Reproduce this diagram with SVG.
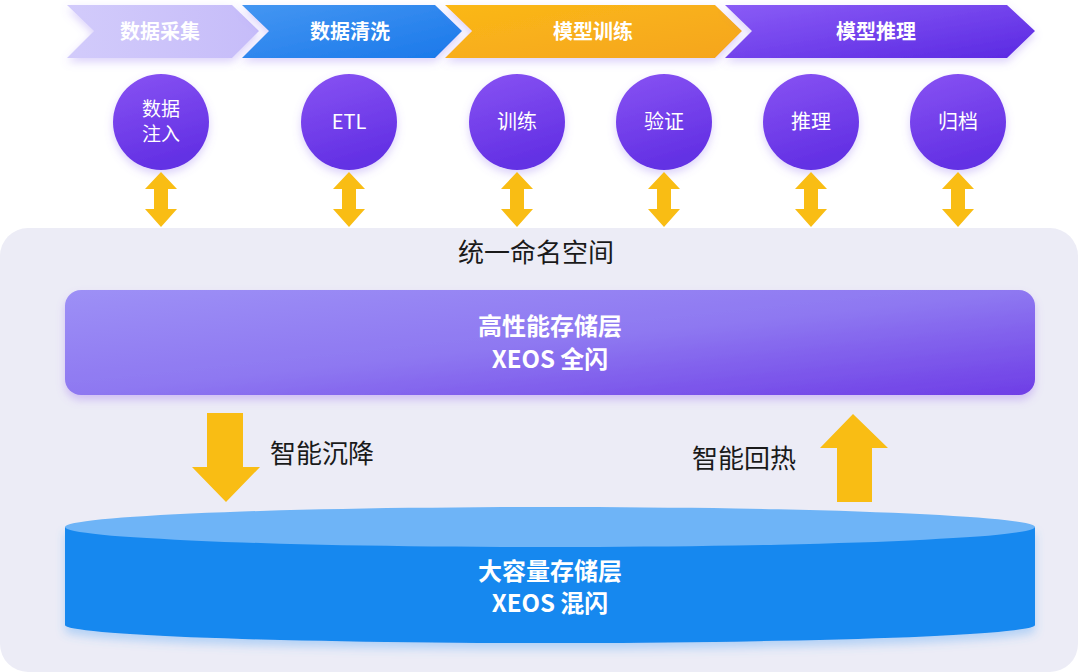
<svg xmlns="http://www.w3.org/2000/svg" width="1080" height="672" viewBox="0 0 1080 672">
<defs>
<linearGradient id="gCh1" x1="0" y1="0" x2="1" y2="0"><stop offset="0" stop-color="#D2CBFB"/><stop offset="1" stop-color="#C6BCF9"/></linearGradient>
<linearGradient id="gCh2" x1="0" y1="0" x2="1" y2="1"><stop offset="0" stop-color="#4496F2"/><stop offset="1" stop-color="#1A78EA"/></linearGradient>
<linearGradient id="gCh3" x1="0" y1="0" x2="1" y2="1"><stop offset="0" stop-color="#FBB817"/><stop offset="1" stop-color="#F5A51F"/></linearGradient>
<linearGradient id="gCh4" x1="0" y1="0" x2="1" y2="1"><stop offset="0" stop-color="#8A5CF6"/><stop offset="1" stop-color="#5A28E2"/></linearGradient>
<linearGradient id="gCirc" x1="0" y1="0" x2="0.3" y2="1"><stop offset="0" stop-color="#8853F3"/><stop offset="1" stop-color="#6330E4"/></linearGradient>
<linearGradient id="gHigh" x1="0" y1="0" x2="1" y2="1"><stop offset="0" stop-color="#9D90F6"/><stop offset="0.5" stop-color="#8E78F1"/><stop offset="1" stop-color="#6E3DE6"/></linearGradient>
<filter id="sh" x="-20%" y="-30%" width="140%" height="170%"><feDropShadow dx="0" dy="4" stdDeviation="4" flood-color="#8A6CF0" flood-opacity="0.3"/></filter>
<filter id="shRect" x="-5%" y="-20%" width="110%" height="150%"><feDropShadow dx="0" dy="5" stdDeviation="4" flood-color="#9B6CF0" flood-opacity="0.35"/></filter>
<filter id="shCyl" x="-5%" y="-20%" width="110%" height="150%"><feDropShadow dx="0" dy="6" stdDeviation="5" flood-color="#4AA0F5" flood-opacity="0.35"/></filter>
<style>
.chtxt{font-family:"Noto Sans CJK SC","Noto Sans",sans-serif;font-size:20px;font-weight:700;fill:#ffffff;text-anchor:middle}
.ctxt{font-family:"Noto Sans CJK SC","Noto Sans",sans-serif;font-size:20px;fill:#ffffff;text-anchor:middle}
.ctxt2{font-family:"Noto Sans CJK SC","Noto Sans",sans-serif;font-size:19px;fill:#ffffff;text-anchor:middle}
.ltxt{font-family:"Noto Sans CJK SC","Noto Sans",sans-serif;font-size:26px;fill:#1a1a1a}
.btxt{font-family:"Noto Sans CJK SC","Noto Sans",sans-serif;font-size:24px;font-weight:700;fill:#ffffff;text-anchor:middle}
.arr{fill:#F9BD14}
</style>
</defs>
<rect width="1080" height="672" fill="#ffffff"/>
<!-- background panel -->
<rect id="panel" x="0" y="228" width="1078" height="444" rx="28" fill="#ECECF6"/>

<!-- chevrons -->
<g id="stage1"><polygon points="67,5 232,5 259,31 232,58 67,58 94,31" fill="url(#gCh1)" filter="url(#sh)"/><text class="chtxt" x="160" y="39">数据采集</text></g>
<g id="stage2"><polygon points="242,5 435,5 462,31 435,58 242,58 269,31" fill="url(#gCh2)" filter="url(#sh)"/><text class="chtxt" x="350" y="39">数据清洗</text></g>
<g id="stage3"><polygon points="445,5 715,5 742,31 715,58 445,58 472,31" fill="url(#gCh3)" filter="url(#sh)"/><text class="chtxt" x="593" y="39">模型训练</text></g>
<g id="stage4"><polygon points="725,5 1007,5 1035,31 1007,58 725,58 752,31" fill="url(#gCh4)" filter="url(#sh)"/><text class="chtxt" x="876" y="39">模型推理</text></g>

<!-- circles -->
<g id="n-ingest"><circle cx="161" cy="122" r="48" fill="url(#gCirc)" filter="url(#sh)"/><text class="ctxt2" x="161" y="116">数据</text><text class="ctxt2" x="161" y="141">注入</text></g>
<g id="n-etl"><circle cx="349" cy="122" r="48" fill="url(#gCirc)" filter="url(#sh)"/><text class="ctxt" x="349" y="129">ETL</text></g>
<g id="n-train"><circle cx="517" cy="122" r="48" fill="url(#gCirc)" filter="url(#sh)"/><text class="ctxt" x="517" y="129">训练</text></g>
<g id="n-verify"><circle cx="664" cy="122" r="48" fill="url(#gCirc)" filter="url(#sh)"/><text class="ctxt" x="664" y="129">验证</text></g>
<g id="n-infer"><circle cx="811" cy="122" r="48" fill="url(#gCirc)" filter="url(#sh)"/><text class="ctxt" x="811" y="129">推理</text></g>
<g id="n-archive"><circle cx="958" cy="122" r="48" fill="url(#gCirc)" filter="url(#sh)"/><text class="ctxt" x="958" y="129">归档</text></g>

<!-- namespace label -->
<g id="namespace"><text class="ltxt" x="536" y="262" text-anchor="middle">统一命名空间</text></g>

<!-- high perf tier -->
<g id="tier-high"><rect x="65" y="290" width="970" height="105" rx="16" fill="url(#gHigh)" filter="url(#shRect)"/><text class="btxt" x="550" y="335">高性能存储层</text><text class="btxt" x="550" y="368">XEOS 全闪</text></g>

<!-- capacity tier cylinder -->
<g id="tier-cap">
<path d="M65,527 L65,625 A485,18 0 0 0 1035,625 L1035,527 Z" fill="#1688EF" filter="url(#shCyl)"/>
<ellipse cx="550" cy="527" rx="485" ry="20" fill="#6EB4F7"/>
<text class="btxt" x="550" y="580">大容量存储层</text><text class="btxt" x="550" y="612">XEOS 混闪</text>
</g>

<!-- connectors -->
<g id="connectors">
<polygon class="arr" points="161,172 177,189 168,189 168,209 177,209 161,227 145,209 154,209 154,189 145,189"/>
<polygon class="arr" points="349,172 365,189 356,189 356,209 365,209 349,227 333,209 342,209 342,189 333,189"/>
<polygon class="arr" points="517,172 533,189 524,189 524,209 533,209 517,227 501,209 510,209 510,189 501,189"/>
<polygon class="arr" points="664,172 680,189 671,189 671,209 680,209 664,227 648,209 657,209 657,189 648,189"/>
<polygon class="arr" points="811,172 827,189 818,189 818,209 827,209 811,227 795,209 804,209 804,189 795,189"/>
<polygon class="arr" points="958,172 974,189 965,189 965,209 974,209 958,227 942,209 951,209 951,189 942,189"/>
<polygon class="arr" points="207,413 243,413 243,467 260,467 226,502 192,467 207,467"/>
<polygon class="arr" points="853,414 888,448 872,448 872,502 837,502 837,448 820,448"/>
<text class="ltxt" x="270" y="463">智能沉降</text>
<text class="ltxt" x="692" y="468">智能回热</text>
</g>
</svg>
